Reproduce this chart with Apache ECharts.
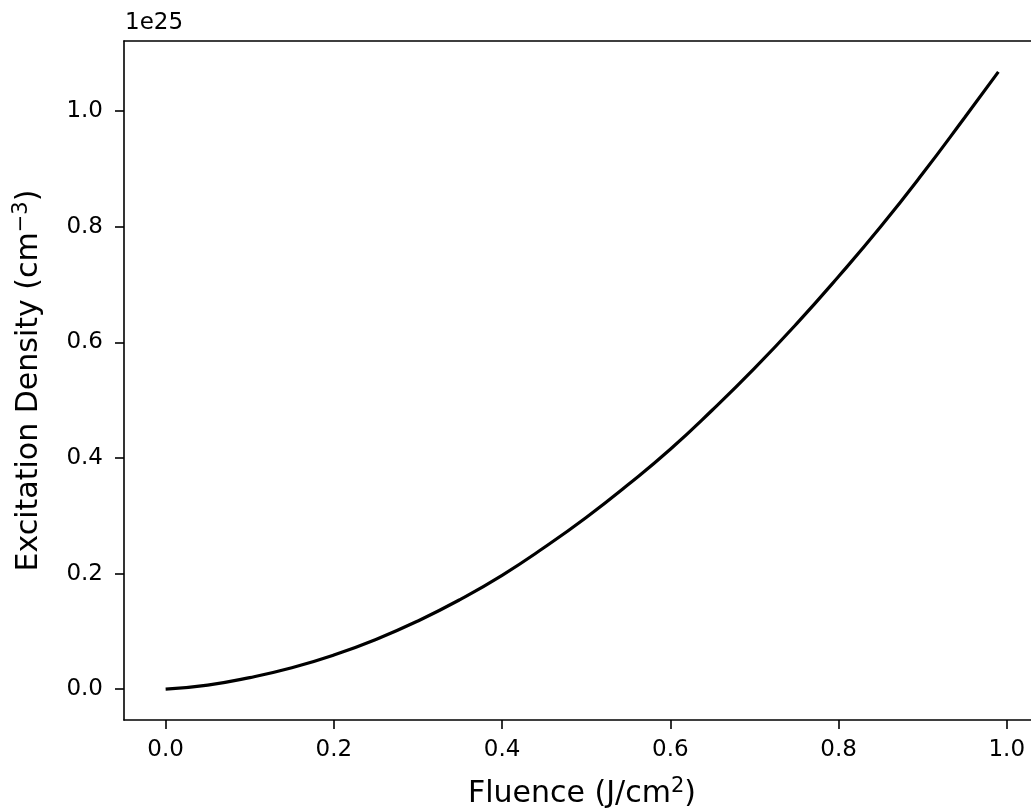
<!DOCTYPE html>
<html>
<head>
<meta charset="utf-8">
<title>Excitation Density vs Fluence</title>
<script src="https://cdn.jsdelivr.net/npm/echarts@6/dist/echarts.min.js"></script>
<style>
  html, body { margin: 0; padding: 0; background: #fff; }
  #chart { width: 1031px; height: 810px; }
</style>
</head>
<body>
<div id="chart"></div>
<script>
// Fluence in J/cm^2
const fluence = [0, 0.05, 0.10, 0.15, 0.20, 0.25, 0.30, 0.35, 0.40, 0.45, 0.50,
                 0.55, 0.60, 0.65, 0.70, 0.75, 0.80, 0.85, 0.90, 0.95, 0.99];
// Excitation density in units of 1e25 cm^-3
const density = [0, 0.007, 0.020, 0.037, 0.059, 0.086, 0.118, 0.155, 0.197, 0.245, 0.297,
                 0.354, 0.415, 0.483, 0.555, 0.632, 0.714, 0.800, 0.892, 0.989, 1.068];
const xTicks = [0, 0.2, 0.4, 0.6, 0.8, 1.0];
const yTicks = [0, 0.2, 0.4, 0.6, 0.8, 1.0];
const yScaleLabel = '1e25';

const FONT = 'DejaVu Sans';
const TICK_SIZE = 23;
const LABEL_SIZE = 30;
const X_RANGE = [-0.0495, 1.0395];
const Y_RANGE = [-0.0534, 1.1214];

const chart = echarts.init(document.getElementById('chart'), null, { renderer: 'canvas' });

const nameRich = {
  t: { fontFamily: FONT, fontSize: LABEL_SIZE, lineHeight: 36, color: '#000' },
  s: { fontFamily: FONT, fontSize: 21, lineHeight: 21, verticalAlign: 'top', color: '#000' }
};
const spine = { show: true, onZero: false, lineStyle: { color: '#000', width: 1.6 } };

chart.setOption({
  animation: false,
  backgroundColor: '#fff',
  grid: {
    left: 124, top: 41, width: 916, height: 679,
    outerBoundsMode: 'none',
    containLabel: false,
    show: false
  },
  graphic: [{
    type: 'text', left: 125, top: 12,
    style: { text: yScaleLabel, font: TICK_SIZE + 'px "' + FONT + '"', fill: '#000' }
  }],
  xAxis: [{
    type: 'value',
    min: X_RANGE[0], max: X_RANGE[1],
    name: '{t|Fluence (J/cm}{s|2}{t|)}',
    nameLocation: 'middle',
    nameGap: 56,
    nameTextStyle: { rich: nameRich },
    axisLine: spine,
    axisTick: { show: true, length: 9, customValues: xTicks, lineStyle: { color: '#000', width: 1.6 } },
    axisLabel: {
      customValues: xTicks, margin: 19,
      fontFamily: FONT, fontSize: TICK_SIZE, color: '#000',
      formatter: v => v.toFixed(1)
    },
    splitLine: { show: false }
  }, {
    // top frame line
    type: 'value', position: 'top',
    min: X_RANGE[0], max: X_RANGE[1],
    axisLine: spine,
    axisTick: { show: false },
    axisLabel: { show: false },
    splitLine: { show: false }
  }],
  yAxis: {
    type: 'value',
    min: Y_RANGE[0], max: Y_RANGE[1],
    name: '{t|Excitation Density (cm}{s|−3}{t|)}',
    nameLocation: 'middle',
    nameRotate: 90,
    nameGap: 77,
    nameTextStyle: { rich: nameRich },
    axisLine: spine,
    axisTick: { show: true, length: 9, customValues: yTicks, lineStyle: { color: '#000', width: 1.6 } },
    axisLabel: {
      customValues: yTicks, margin: 21,
      fontFamily: FONT, fontSize: TICK_SIZE, color: '#000',
      formatter: v => v.toFixed(1)
    },
    splitLine: { show: false }
  },
  series: [{
    type: 'line',
    xAxisIndex: 0,
    data: fluence.map((f, i) => [f, density[i]]),
    smooth: true,
    showSymbol: false,
    lineStyle: { color: '#000', width: 3.2 },
    clip: false
  }]
});
</script>
</body>
</html>
